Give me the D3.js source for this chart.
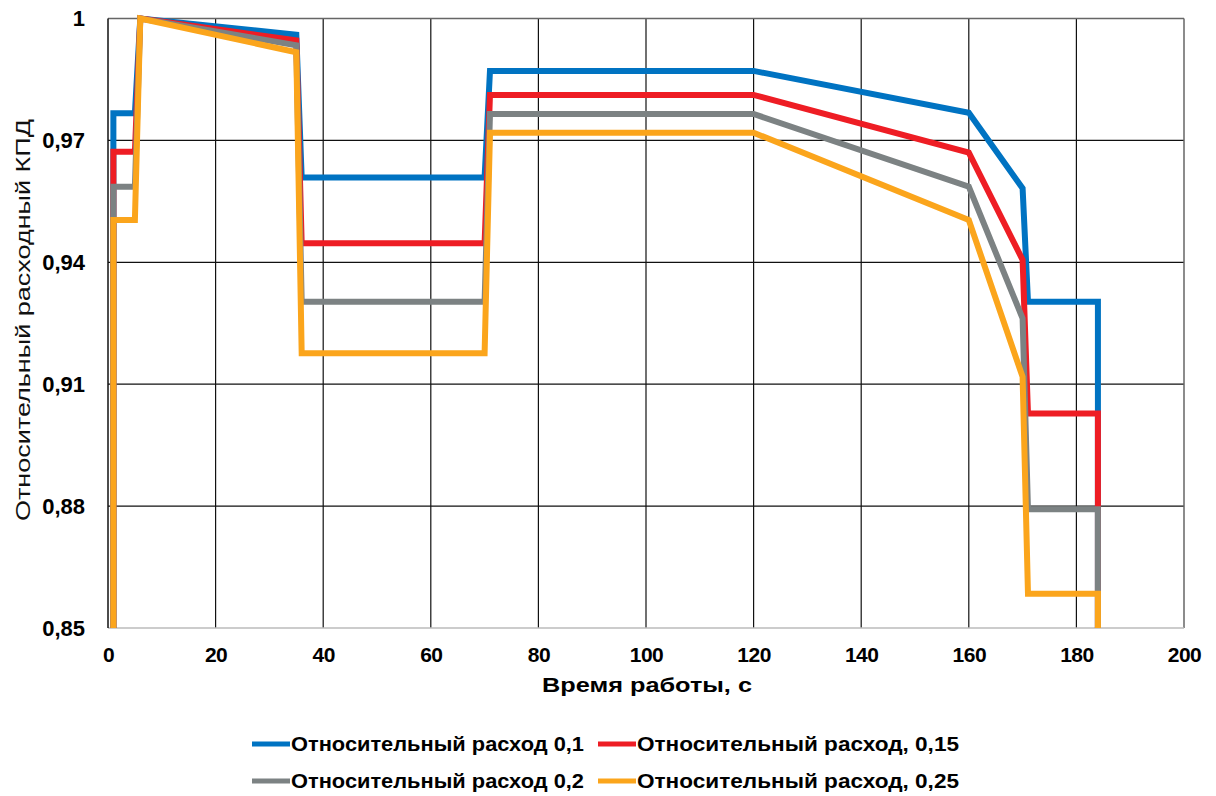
<!DOCTYPE html>
<html><head><meta charset="utf-8">
<script src="https://cdn.jsdelivr.net/npm/d3@7"></script>
<style>body{margin:0;background:#fff}svg text{font-family:"Liberation Sans",Arial,sans-serif}</style>
</head><body><svg id="c" width="1216" height="796"></svg>
<script>
const time = [1, 1, 5, 6, 35, 36, 70, 71, 120, 160, 170, 171, 184, 184];
const flow01  = [0.85, 0.9767, 0.9767, 1.0, 0.9960, 0.9609, 0.9609, 0.9871, 0.9871, 0.9768, 0.9582, 0.9303, 0.9303, 0.85];
const flow015 = [0.85, 0.9672, 0.9672, 1.0, 0.9946, 0.9447, 0.9447, 0.9812, 0.9812, 0.9670, 0.9406, 0.9028, 0.9028, 0.85];
const flow02  = [0.85, 0.9586, 0.9586, 1.0, 0.9934, 0.9303, 0.9303, 0.9765, 0.9765, 0.9586, 0.9262, 0.8792, 0.8792, 0.85];
const flow025 = [0.85, 0.9504, 0.9504, 1.0, 0.9917, 0.9176, 0.9176, 0.9719, 0.9719, 0.9504, 0.9118, 0.8584, 0.8584, 0.85];
const seriesNames = ["Относительный расход 0,1","Относительный расход, 0,15","Относительный расход 0,2","Относительный расход, 0,25"];
const seriesColors = ["#0073C2","#EE1D24","#7C8283","#FBA51C"];
const xTicks = [0,20,40,60,80,100,120,140,160,180,200];
const yTicks = [0.85,0.88,0.91,0.94,0.97,1];
const yTickLabels = ["0,85","0,88","0,91","0,94","0,97","1"];
const xTitle = "Время работы, с";
const yTitle = "Относительный расходный КПД";

const svg = d3.select("#c");
const L=108,R=1184,T=18.5,B=628;
const x = d3.scaleLinear().domain([0,200]).range([L,R]);
const y = d3.scaleLinear().domain([0.85,1]).range([B,T]);

// grid
const g = svg.append("g");
g.selectAll(".vx").data(xTicks.slice(1,-1)).enter().append("line")
 .attr("x1",d=>x(d)).attr("x2",d=>x(d)).attr("y1",T).attr("y2",B)
 .attr("stroke","#111").attr("stroke-width",1.2);
g.selectAll(".hy").data(yTicks.slice(1,-1)).enter().append("line")
 .attr("x1",L).attr("x2",R).attr("y1",d=>y(d)).attr("y2",d=>y(d))
 .attr("stroke","#111").attr("stroke-width",1.2);
// border
g.append("line").attr("x1",L).attr("x2",R).attr("y1",T).attr("y2",T).attr("stroke","#666").attr("stroke-width",1.5);
g.append("line").attr("x1",R).attr("x2",R).attr("y1",T).attr("y2",B).attr("stroke","#666").attr("stroke-width",1.5);
g.append("line").attr("x1",L).attr("x2",R).attr("y1",B).attr("y2",B).attr("stroke","#bbb").attr("stroke-width",1.5);
g.append("line").attr("x1",L).attr("x2",L).attr("y1",T).attr("y2",B).attr("stroke","#111").attr("stroke-width",1.5);

// axes labels
const xa = d3.axisBottom(x).tickValues(xTicks).tickSize(0).tickPadding(0).tickFormat(d3.format("d"));
const xg = svg.append("g").attr("transform",`translate(0,${B})`).call(xa);
xg.select(".domain").remove();
xg.selectAll("text").attr("font-size",21).attr("font-weight","bold").attr("fill","#000")
  .attr("dy",null).attr("y",34).style("letter-spacing","-0.5px");
const ya = d3.axisLeft(y).tickValues(yTicks).tickSize(0).tickPadding(23).tickFormat((d,i)=>yTickLabels[i]);
const yg = svg.append("g").attr("transform",`translate(${L},0)`).call(ya);
yg.select(".domain").remove();
yg.selectAll("text").attr("font-size",22).attr("font-weight","bold").attr("fill","#000");

// lines
const series = [flow01,flow015,flow02,flow025];
const line = d3.line().x((d,i)=>x(time[i])).y(d=>y(d));
series.forEach((s,k)=>{
  svg.append("path").attr("d",line(s)).attr("fill","none")
   .attr("stroke",seriesColors[k]).attr("stroke-width",6).attr("stroke-linejoin","miter");
});

// titles
svg.append("text").attr("x",647).attr("y",692).attr("text-anchor","middle")
 .attr("font-size",20).attr("font-weight","bold").attr("textLength",210).attr("lengthAdjust","spacingAndGlyphs").text(xTitle);
svg.append("text").attr("transform","translate(30,320) rotate(-90)").attr("text-anchor","middle")
 .attr("font-size",21).attr("fill","#111").attr("textLength",402).attr("lengthAdjust","spacingAndGlyphs").text(yTitle);

// legend
const leg = [{x:252,y:744},{x:598,y:744},{x:252,y:781},{x:598,y:781}];
const legW = [293,322,293,322];
series.forEach((s,k)=>{
  const p=leg[k];
  svg.append("line").attr("x1",p.x).attr("x2",p.x+38).attr("y1",p.y).attr("y2",p.y)
   .attr("stroke",seriesColors[k]).attr("stroke-width",5);
  svg.append("text").attr("x",p.x+39).attr("y",p.y+7).attr("font-size",20).attr("font-weight","bold")
   .attr("textLength",legW[k]).attr("lengthAdjust","spacingAndGlyphs").text(seriesNames[k]);
});
</script></body></html>
